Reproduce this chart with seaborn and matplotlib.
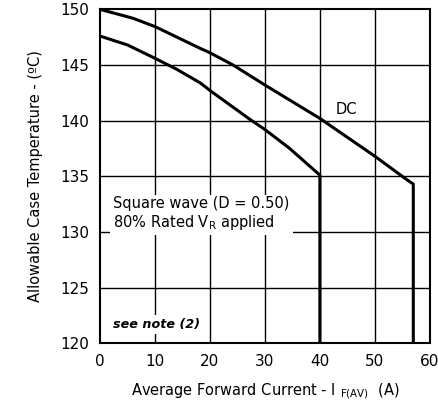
import pandas as pd
import matplotlib
matplotlib.use('Agg')
import matplotlib.pyplot as plt
import seaborn as sns

# =============================================================================
# Data
# =============================================================================
dc_current = [0, 6, 10, 18.2, 20, 24.2, 30, 40, 50, 55.8, 57, 57]
dc_temp = [150, 149.2, 148.45, 146.5, 146.1, 145.0, 143.2, 140.2, 136.8, 134.7, 134.3, 120]

sq_current = [0, 5, 10, 14, 18.2, 20.3, 27.3, 30, 34.5, 40, 40]
sq_temp = [147.6, 146.8, 145.6, 144.6, 143.4, 142.6, 140.1, 139.2, 137.5, 135.1, 120]

x_ticks = [0, 10, 20, 30, 40, 50, 60]
y_ticks = [120, 125, 130, 135, 140, 145, 150]

dc_df = pd.DataFrame({'current': dc_current, 'temp': dc_temp})
sq_df = pd.DataFrame({'current': sq_current, 'temp': sq_temp})

sns.set_theme(style='white')
plt.rcParams['font.family'] = ['DejaVu Sans']
plt.rcParams['mathtext.default'] = 'regular'
plt.rcParams['text.color'] = 'black'

fig = plt.figure(figsize=(4.39, 4.08), dpi=100)
ax = fig.add_axes([0.228, 0.159, 0.751, 0.818])

# grid
for xv in x_ticks[1:-1]:
    ax.axvline(xv, color='black', lw=1, zorder=1)
for yv in y_ticks[1:-1]:
    ax.axhline(yv, color='black', lw=1, zorder=1)

# curves (estimator=None so the vertical drop is kept)
sns.lineplot(data=dc_df, x='current', y='temp', sort=False, estimator=None,
             color='black', lw=2.2, ax=ax, zorder=4)
sns.lineplot(data=sq_df, x='current', y='temp', sort=False, estimator=None,
             color='black', lw=2.2, ax=ax, zorder=4)

ax.set_xlim(0, 60)
ax.set_ylim(120, 150)
ax.set_xticks(x_ticks)
ax.set_yticks(y_ticks)
ax.tick_params(length=0, pad=8, labelsize=11, colors='black')
for s in ax.spines.values():
    s.set_color('black')
    s.set_linewidth(1.5)

ax.set_xlabel('Average Forward Current - I $_{F(AV)}$  (A)', fontsize=10.5,
              color='black', labelpad=9)
ax.set_ylabel('Allowable Case Temperature - (ºC)', fontsize=10.5,
              color='black', labelpad=12)

ax.text(2.4, 131.6, 'Square wave (D = 0.50)\n80% Rated V$_R$ applied',
        fontsize=10.5, ha='left', va='center', linespacing=1.1, zorder=3,
        bbox=dict(facecolor='white', edgecolor='none', pad=2.5))
ax.text(2.4, 121.7, 'see note (2)', fontsize=9.2, fontweight='bold',
        fontstyle='italic', ha='left', va='center', zorder=3,
        bbox=dict(facecolor='white', edgecolor='none', pad=2))
ax.text(44.8, 141.0, 'DC', fontsize=10.5, ha='center', va='center', zorder=3)

plt.savefig('out.png', dpi=100)
